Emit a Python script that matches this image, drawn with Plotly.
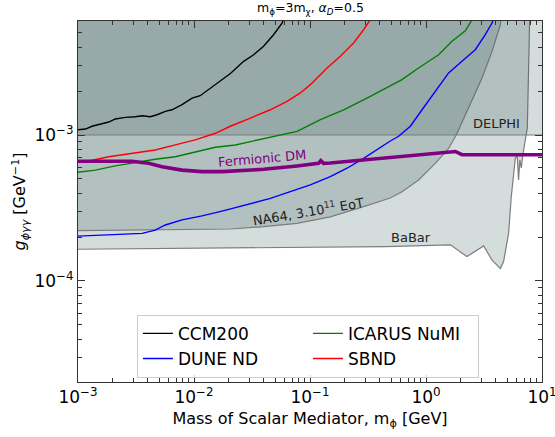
import plotly.graph_objects as go

# ---------------- data ----------------
ccm_m = [1.0e-3, 1.16e-3, 1.32e-3, 1.56e-3, 1.84e-3, 2.10e-3, 2.56e-3, 3.12e-3, 3.57e-3, 4.20e-3,
         4.80e-3, 5.66e-3, 6.46e-3, 7.89e-3, 9.62e-3, 1.13e-2, 1.43e-2, 1.74e-2, 2.06e-2, 2.68e-2,
         3.27e-2, 3.98e-2, 4.85e-2, 5.74e-2, 6.00e-2]
ccm_g = [1.086e-3, 1.099e-3, 1.148e-3, 1.194e-3, 1.227e-3, 1.288e-3, 1.321e-3, 1.334e-3, 1.355e-3, 1.334e-3,
         1.377e-3, 1.452e-3, 1.489e-3, 1.614e-3, 1.791e-3, 1.858e-3, 2.123e-3, 2.393e-3, 2.636e-3, 3.199e-3,
         3.548e-3, 4.055e-3, 4.864e-3, 5.848e-3, 6.324e-3]

sbnd_m = [1.0e-3, 1.16e-3, 1.84e-3, 3.12e-3, 4.63e-3, 6.90e-3, 1.026e-2, 1.528e-2, 2.056e-2, 3.062e-2,
          4.55e-2, 6.34e-2, 8.26e-2, 0.1007, 0.1403, 0.1824, 0.2377, 0.2897, 0.3311]
sbnd_g = [6.53e-4, 6.56e-4, 7.10e-4, 7.50e-4, 7.89e-4, 8.55e-4, 9.25e-4, 1.028e-3, 1.148e-3, 1.306e-3,
          1.489e-3, 1.702e-3, 1.941e-3, 2.213e-3, 2.877e-3, 3.459e-3, 4.266e-3, 5.260e-3, 6.166e-3]

icarus_m = [1.0e-3, 1.41e-3, 2.10e-3, 3.12e-3, 4.63e-3, 6.90e-3, 1.026e-2, 1.528e-2, 2.27e-2, 3.062e-2,
            4.55e-2, 7.73e-2, 0.123, 0.195, 0.3097, 0.492, 0.621, 0.863, 1.285, 1.675, 2.183, 2.495]
icarus_g = [5.56e-4, 5.75e-4, 6.14e-4, 6.50e-4, 6.82e-4, 7.10e-4, 7.69e-4, 8.24e-4, 8.55e-4, 9.00e-4,
            9.73e-4, 1.059e-3, 1.274e-3, 1.489e-3, 1.791e-3, 2.158e-3, 2.393e-3, 2.877e-3, 3.548e-3,
            4.385e-3, 5.176e-3, 6.166e-3]

dune_m = [1.0e-3, 1.41e-3, 2.10e-3, 3.57e-3, 4.63e-3, 5.66e-3, 7.89e-3, 1.172e-2, 1.742e-2, 2.27e-2,
          3.062e-2, 4.55e-2, 6.76e-2, 0.1007, 0.1496, 0.2084, 0.2897, 0.3784, 0.492, 0.581, 0.733,
          0.925, 1.202, 1.567, 2.042, 2.661, 3.243, 3.707, 3.882]
dune_g = [2.03e-4, 2.06e-4, 2.09e-4, 2.12e-4, 2.23e-4, 2.42e-4, 2.62e-4, 2.79e-4, 3.01e-4, 3.18e-4,
          3.37e-4, 3.68e-4, 4.09e-4, 4.55e-4, 5.18e-4, 5.92e-4, 6.92e-4, 7.98e-4, 9.10e-4, 9.80e-4,
          1.148e-3, 1.489e-3, 1.991e-3, 2.661e-3, 3.199e-3, 3.837e-3, 4.864e-3, 5.848e-3, 6.427e-3]

fdm_m = [1.0e-3, 2.92e-3, 4.06e-3, 5.30e-3, 7.89e-3, 1.172e-2, 1.742e-2, 2.27e-2, 3.98e-2, 7.73e-2,
         0.1186, 0.1239, 0.1309, 0.1496, 0.2541, 0.492, 0.863, 1.675, 1.791, 2.042, 3.243, 10.0]
fdm_g = [6.61e-4, 6.61e-4, 6.40e-4, 6.07e-4, 5.75e-4, 5.61e-4, 5.61e-4, 5.66e-4, 5.82e-4, 6.14e-4,
         6.40e-4, 6.67e-4, 6.40e-4, 6.43e-4, 6.67e-4, 7.03e-4, 7.30e-4, 7.57e-4, 7.71e-4, 7.33e-4,
         7.33e-4, 7.33e-4]

# exclusion regions (boundaries)
na64_m = [5.0e-4, 1.0e-3, 2.056e-2, 3.98e-2, 7.73e-2, 0.1496, 0.2897, 0.492, 0.621, 0.863, 1.202,
          1.567, 1.824, 2.328, 3.041, 3.707, 4.375, 4.55, 4.75]
na64_g = [2.21e-4, 2.21e-4, 2.27e-4, 2.355e-4, 2.48e-4, 2.75e-4, 3.23e-4, 3.70e-4, 4.09e-4, 4.92e-4,
          6.40e-4, 8.11e-4, 1.0e-3, 1.53e-3, 2.455e-3, 3.74e-3, 5.69e-3, 8.41e-3, 2.0e-2]

babar_m = [5.0e-4, 1.0e-3, 0.4467, 1.622, 2.254, 3.141, 3.707, 4.375, 4.667, 5.152, 5.433, 5.689,
           5.888, 6.12, 6.28, 6.44, 6.63, 6.83, 7.18, 7.47, 7.82, 7.90]
babar_g = [1.65e-4, 1.65e-4, 1.72e-4, 1.77e-4, 1.47e-4, 1.74e-4, 1.39e-4, 1.22e-4, 1.36e-4, 2.12e-4,
           3.78e-4, 5.47e-4, 6.92e-4, 7.18e-4, 4.92e-4, 6.75e-4, 5.94e-4, 7.30e-4, 9.25e-4, 1.117e-3,
           6.0e-3, 2.0e-2]

delphi_m = [5.0e-4, 20.0]
delphi_g = [1.0e-3, 2.0e-2]

x_tickvals = [1e-3, 1e-2, 1e-1, 1, 10]
x_ticktext = ["10<sup>−3</sup>", "10<sup>−2</sup>", "10<sup>−1</sup>", "10<sup>0</sup>", "10<sup>1</sup>"]
y_tickvals = [1e-4, 1e-3]
y_ticktext = ["10<sup>−4</sup>", "10<sup>−3</sup>"]

region_fill = "rgba(47,79,79,0.2)"
edge = "rgb(125,125,125)"

fig = go.Figure()

# BaBar polygon
fig.add_trace(go.Scatter(
    x=babar_m + [babar_m[-1], babar_m[0]],
    y=babar_g + [babar_g[-1], babar_g[-1]],
    mode="lines", fill="toself", fillcolor=region_fill,
    line=dict(color=edge, width=1.2), showlegend=False, hoverinfo="skip"))
# NA64 polygon
fig.add_trace(go.Scatter(
    x=na64_m + [na64_m[0]],
    y=na64_g + [na64_g[-1]],
    mode="lines", fill="toself", fillcolor=region_fill,
    line=dict(color=edge, width=1.2), showlegend=False, hoverinfo="skip"))
# DELPHI rectangle
fig.add_trace(go.Scatter(
    x=[delphi_m[0], delphi_m[1], delphi_m[1], delphi_m[0], delphi_m[0]],
    y=[delphi_g[0], delphi_g[0], delphi_g[1], delphi_g[1], delphi_g[0]],
    mode="lines", fill="toself", fillcolor=region_fill,
    line=dict(color=edge, width=1.2), showlegend=False, hoverinfo="skip"))

fig.add_trace(go.Scatter(x=ccm_m, y=ccm_g, mode="lines", name="CCM200",
                         line=dict(color="black", width=1.4), legendrank=1))
fig.add_trace(go.Scatter(x=dune_m, y=dune_g, mode="lines", name="DUNE ND",
                         line=dict(color="blue", width=1.4), legendrank=3))
fig.add_trace(go.Scatter(x=icarus_m, y=icarus_g, mode="lines", name="ICARUS NuMI",
                         line=dict(color="green", width=1.4), legendrank=2))
fig.add_trace(go.Scatter(x=sbnd_m, y=sbnd_g, mode="lines", name="SBND",
                         line=dict(color="red", width=1.4), legendrank=4))
fig.add_trace(go.Scatter(x=fdm_m, y=fdm_g, mode="lines", showlegend=False,
                         line=dict(color="purple", width=3.6)))

FONT = "DejaVu Sans"
ann = dict(xref="paper", yref="paper", showarrow=False, xanchor="center", yanchor="middle",
           font=dict(family=FONT, size=13, color="#222"))
fig.add_annotation(x=0.5, y=1.0, yanchor="bottom", xanchor="center", yshift=2,
                   text="m<sub>ϕ</sub>=3m<sub>χ</sub>, <i>α<sub>D</sub></i>=0.5",
                   xref="paper", yref="paper", showarrow=False,
                   font=dict(family=FONT, size=12.5, color="black"))
fig.add_annotation(x=0.903, y=0.715, text="DELPHI", **ann)
fig.add_annotation(x=0.718, y=0.399, text="BaBar", **ann)
fig.add_annotation(x=0.397, y=0.620, text="Fermionic DM", textangle=-5,
                   xref="paper", yref="paper", showarrow=False, xanchor="center", yanchor="middle",
                   font=dict(family=FONT, size=13, color="purple"))
fig.add_annotation(x=0.495, y=0.474, text="NA64, 3.10<sup>11</sup> EoT", textangle=-9.5, **ann)

axis_common = dict(type="log", showgrid=False, zeroline=False, automargin=False,
                   ticks="inside", ticklen=7, tickwidth=1, tickcolor="#333",
                   showline=True, linecolor="#333", linewidth=1, mirror="allticks",
                   ticklabeloverflow="allow",
                   tickfont=dict(family=FONT, size=17, color="black"),
                   minor=dict(ticks="inside", ticklen=4, tickcolor="#333", dtick="D1", showgrid=False))

fig.update_xaxes(range=[-3, 1], tickmode="array", tickvals=x_tickvals, ticktext=x_ticktext,
                 title=dict(text="Mass of Scalar Mediator, m<sub>ϕ</sub> [GeV]",
                            font=dict(family=FONT, size=16, color="black"), standoff=6),
                 **axis_common)
fig.update_yaxes(range=[-4.692, -2.219], tickmode="array", tickvals=y_tickvals, ticktext=y_ticktext,
                 title=dict(text="<i>g</i><sub><i>ϕγγ</i></sub> [GeV<sup>−1</sup>]",
                            font=dict(family=FONT, size=16, color="black"), standoff=4),
                 **axis_common)

fig.update_layout(
    width=555, height=437,
    margin=dict(l=78, r=13, t=21, b=55, autoexpand=False),
    paper_bgcolor="white", plot_bgcolor="white",
    font=dict(family=FONT),
    legend=dict(orientation="h", x=0.127, xanchor="left", y=0.186, yanchor="top",
                entrywidth=125, bgcolor="rgba(255,255,255,0.8)", bordercolor="#cccccc",
                borderwidth=1, font=dict(family=FONT, size=17, color="black"),
                traceorder="normal"),
)

fig.write_html("out.html")
